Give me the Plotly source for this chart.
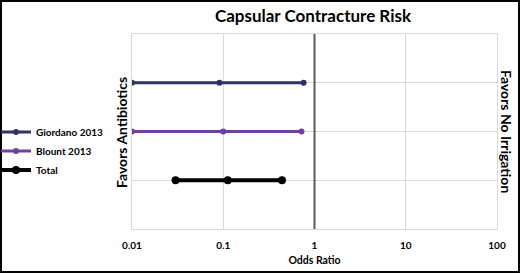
import plotly.graph_objects as go

# ---- data ----
studies = ["Giordano 2013", "Blount 2013", "Total"]
y_pos = [3, 2, 1]
lower = [0.01, 0.01, 0.030]
odds = [0.091, 0.100, 0.112]
upper = [0.76, 0.72, 0.44]
colors = ["#2e3462", "#7040a0", "#000000"]
line_widths = [3, 3, 4]
marker_sizes = [6, 6, 8]
tick_vals = [0.01, 0.1, 1, 10, 100]
tick_text = ["0.01", "0.1", "1", "10", "100"]
ref_value = 1

W, H = 520, 273
L, R, T, B = 132, 23, 34, 44
pw, ph = W - L - R, H - T - B

FONT = "Lato"

fig = go.Figure()
for name, yy, lo, od, up, c, lw, ms in zip(studies, y_pos, lower, odds, upper,
                                          colors, line_widths, marker_sizes):
    fig.add_trace(go.Scatter(
        x=[lo, od, up], y=[yy, yy, yy], mode="lines+markers", name="<b>" + name + "</b>",
        line=dict(color=c, width=lw), marker=dict(color=c, size=ms),
    ))

fig.add_shape(type="line", xref="x", yref="paper", x0=ref_value, x1=ref_value,
              y0=0, y1=1, line=dict(color="#595959", width=2), layer="above")

# outer frame
fig.add_shape(type="rect", xref="paper", yref="paper",
              x0=(1 - L) / pw, x1=(W - L - 1) / pw,
              y0=-(B - 1) / ph, y1=1 + (T - 1) / ph,
              line=dict(color="#000000", width=2), layer="above")

fig.update_layout(
    width=W, height=H,
    margin=dict(l=L, r=R, t=T, b=B, autoexpand=False),
    paper_bgcolor="white", plot_bgcolor="white",
    font=dict(family=FONT, color="#000000"),
    title=dict(text="<b>Capsular Contracture Risk</b>", x=313 / W, xanchor="center",
               y=1 - 16 / H, yanchor="middle", font=dict(size=17, family=FONT)),
    showlegend=True,
    legend=dict(x=(-4 - L) / pw, xanchor="left", y=(H - B - 151) / ph, yanchor="middle",
                font=dict(size=10, family=FONT), itemwidth=30,
                bgcolor="rgba(0,0,0,0)", tracegroupgap=0),
    xaxis=dict(type="log", range=[-2, 2], tickvals=tick_vals,
               ticktext=["<b>" + t + "</b>" for t in tick_text],
               showgrid=True, gridcolor="#d9d9d9", gridwidth=1,
               showline=True, linecolor="#d9d9d9", mirror=True,
               zeroline=False, ticks="", tickfont=dict(size=10, family=FONT),
               ticklabelstandoff=7,
               title=dict(text="<b>Odds Ratio</b>", font=dict(size=10.5, family=FONT), standoff=6)),
    yaxis=dict(range=[0, 4], tickvals=[1, 2, 3], showticklabels=False,
               showgrid=True, gridcolor="#d9d9d9", gridwidth=1,
               showline=True, linecolor="#d9d9d9", mirror=True,
               zeroline=False, ticks=""),
    annotations=[
        dict(text="<b>Favors Antibiotics</b>", xref="paper", yref="paper",
             x=(121 - L) / pw, y=(H - B - 133) / ph, textangle=-90, showarrow=False,
             font=dict(size=14, family=FONT), xanchor="center", yanchor="middle"),
        dict(text="<b>Favors No Irrigation</b>", xref="paper", yref="paper",
             x=(507 - L) / pw, y=(H - B - 131) / ph, textangle=90, showarrow=False,
             font=dict(size=14, family=FONT), xanchor="center", yanchor="middle"),
    ],
)

fig.write_html("out.html", config={"displayModeBar": False},
               post_script="document.body.style.margin='0';")
